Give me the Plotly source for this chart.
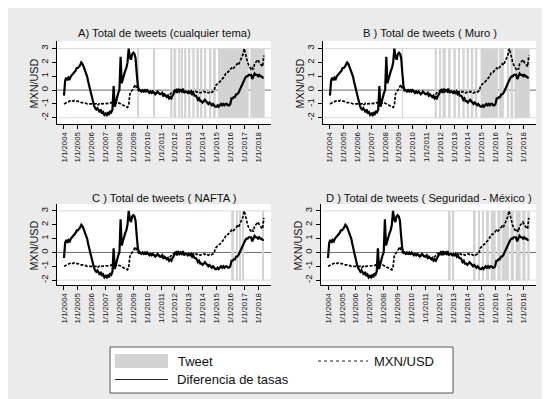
import plotly.graph_objects as go
import pandas as pd

# ---------------- data ----------------
month_start = "2004-01-01"
month_end = "2018-06-01"

diferencia_tasas = [
    # 2004
    -0.4, 0.7, 0.9, 0.7, 0.9, 0.8, 1.0, 1.1, 1.2, 1.3, 1.4, 1.6,
    # 2005
    1.6, 1.7, 1.8, 2.0, 1.9, 1.7, 1.5, 1.3, 1.0, 0.6, 0.2, -0.2,
    # 2006
    -0.6, -0.9, -1.1, -1.3, -1.4, -1.3, -1.5, -1.6, -1.4, -1.7, -1.6, -1.8,
    # 2007
    -1.7, -1.8, -1.6, -1.8, -1.5, -1.6, -1.4, 0.3, -1.2, -0.8, -0.5, -0.2,
    # 2008
    0.0, 2.4, 0.5, 0.9, 1.1, 1.4, 1.6, 2.0, 3.0, 2.4, 2.2, 2.6,
    # 2009
    2.7, 2.6, 2.3, 1.2, 0.3, 0.0, 0.0, -0.1, 0.0, -0.1, 0.0, -0.1,
    # 2010
    0.0, -0.1, -0.2, -0.1, -0.2, -0.1, -0.2, -0.3, -0.2, -0.1, -0.2, -0.3,
    # 2011
    -0.3, -0.2, -0.4, -0.3, -0.4, -0.5, -0.4, -0.6, -0.5, -0.6, -0.4, -0.2,
    # 2012
    -0.1, 0.0, -0.2, 0.1, -0.1, 0.0, -0.1, 0.1, -0.2, -0.1, -0.1, -0.2,
    # 2013
    -0.1, -0.2, -0.1, -0.3, -0.2, -0.4, -0.4, -0.5, -0.7, -0.6, -0.8, -0.8,
    # 2014
    -0.9, -0.8, -0.7, -0.8, -0.9, -1.0, -0.9, -1.0, -1.1, -1.0, -1.1, -1.2,
    # 2015
    -1.2, -1.1, -1.2, -1.1, -1.0, -1.1, -1.0, -1.1, -1.0, -1.0, -1.1, -1.1,
    # 2016
    -1.0, -0.6, -0.6, -0.5, -0.5, -0.3, -0.3, -0.2, 0.0, 0.1, 0.4, 0.6,
    # 2017
    0.7, 0.9, 1.0, 1.0, 1.1, 1.1, 1.1, 0.8, 1.1, 1.2, 1.1, 1.1,
    # 2018
    1.0, 1.1, 1.0, 1.0, 0.9, 0.9,
]

mxn_usd = [
    # 2004
    -1.0, -0.95, -0.9, -0.85, -0.8, -0.75, -0.75, -0.75, -0.8, -0.75, -0.8, -0.8,
    # 2005
    -0.8, -0.85, -0.85, -0.9, -0.9, -0.9, -0.95, -0.95, -1.0, -1.0, -1.0, -1.0,
    # 2006
    -1.0, -1.05, -1.0, -1.0, -1.0, -1.1, -1.0, -0.95, -1.0, -1.0, -1.0, -0.95,
    # 2007
    -0.95, -0.95, -1.0, -0.95, -0.95, -0.9, -0.95, -1.0, -1.0, -0.95, -0.9, -0.9,
    # 2008
    -0.95, -1.0, -1.05, -1.1, -1.15, -1.2, -1.2, -1.25, -1.1, -0.3, -0.1, 0.0,
    # 2009
    0.1, 0.3, 0.4, 0.1, 0.0, -0.05, 0.0, -0.1, 0.0, -0.05, -0.1, 0.0,
    # 2010
    -0.1, -0.1, -0.15, -0.2, -0.2, -0.1, -0.2, -0.2, -0.25, -0.2, -0.2, -0.25,
    # 2011
    -0.3, -0.25, -0.3, -0.4, -0.35, -0.4, -0.45, -0.4, -0.3, -0.2, -0.1, -0.1,
    # 2012
    0.0, -0.05, -0.1, 0.0, -0.1, -0.05, -0.1, -0.1, -0.15, -0.1, -0.1, -0.15,
    # 2013
    -0.2, -0.15, -0.2, -0.15, -0.1, -0.15, -0.1, -0.15, -0.1, -0.15, -0.2, -0.15,
    # 2014
    -0.1, -0.1, -0.15, -0.1, -0.15, -0.2, -0.15, -0.2, -0.15, -0.1, -0.05, 0.3,
    # 2015
    0.4, 0.5, 0.55, 0.6, 0.7, 0.8, 0.9, 1.0, 1.2, 1.3, 1.3, 1.4,
    # 2016
    1.5, 1.6, 1.5, 1.6, 1.7, 1.8, 1.9, 1.8, 2.1, 2.2, 2.4, 2.6,
    # 2017
    3.0, 2.6, 2.3, 2.0, 1.8, 1.6, 1.5, 1.6, 1.5, 1.9, 2.0, 2.1,
    # 2018
    2.2, 2.0, 1.9, 1.8, 1.7, 2.5,
]

# Tweet periods (start, end) for each panel
tweets_A_start = ["2009-04-10", "2010-06-20", "2011-09-01", "2011-11-27", "2012-03-27", "2012-06-20",
                  "2012-09-15", "2012-12-12", "2013-04-05", "2013-07-20", "2013-11-03", "2014-02-25",
                  "2014-06-15", "2014-10-01", "2015-02-10", "2017-06-10"]
tweets_A_end = ["2009-05-05", "2010-07-15", "2011-10-27", "2012-02-06", "2012-05-25", "2012-08-03",
                "2012-10-30", "2013-02-14", "2013-06-05", "2013-09-27", "2013-12-25", "2014-04-10",
                "2014-08-20", "2014-12-15", "2017-04-30", "2018-06-25"]

tweets_B_start = ["2009-03-25", "2011-08-05", "2011-11-28", "2012-02-25", "2012-07-25", "2012-12-12",
                  "2013-04-15", "2013-08-08", "2013-11-28", "2014-03-15", "2014-07-22", "2014-12-01",
                  "2016-04-05", "2016-11-05", "2017-01-30", "2017-05-15"]
tweets_B_end = ["2009-04-18", "2011-10-01", "2012-01-12", "2012-05-25", "2012-10-01", "2013-02-14",
                "2013-06-05", "2013-10-08", "2014-01-30", "2014-05-22", "2014-09-05", "2016-03-10",
                "2016-08-10", "2016-12-20", "2017-04-12", "2018-06-25"]

tweets_C_start = ["2016-01-25", "2016-06-05", "2016-09-01", "2016-11-12", "2018-04-22"]
tweets_C_end = ["2016-04-05", "2016-07-01", "2016-10-01", "2016-12-28", "2018-06-05"]

tweets_D_start = ["2012-09-08", "2012-12-20", "2014-06-25", "2014-10-15", "2015-01-30", "2015-05-10",
                  "2015-09-06", "2016-02-28", "2016-06-20", "2017-02-10", "2017-06-20", "2017-12-12",
                  "2018-04-22"]
tweets_D_end = ["2012-10-22", "2013-01-22", "2014-08-07", "2014-11-20", "2015-03-14", "2015-07-22",
                "2016-01-15", "2016-05-25", "2016-12-28", "2017-05-08", "2017-10-30", "2018-03-10",
                "2018-06-25"]

panel_titles = ["A) Total de tweets (cualquier tema)", "B ) Total de tweets ( Muro )",
                "C ) Total de tweets ( NAFTA )", "D ) Total de tweets ( Seguridad - México )"]
y_title = "MXN/USD"
year_ticks = list(range(2004, 2019))
tick_labels = [f"1/1/{y}" for y in year_ticks]
y_ticks = [-2, -1, 0, 1, 2, 3]

# ---------------- figure ----------------
W, H = 550, 399
months = pd.date_range(month_start, month_end, freq="MS")
tweets = [(tweets_A_start, tweets_A_end), (tweets_B_start, tweets_B_end),
          (tweets_C_start, tweets_C_end), (tweets_D_start, tweets_D_end)]

# pixel boxes (left, right, top, bottom) of each plot area
boxes = [(49, 263, 33, 116), (315, 528, 33, 116), (49, 263, 196, 277), (313, 528, 196, 277)]
yranges = [[-2.45, 3.55], [-2.45, 3.55], [-2.35, 3.5], [-2.35, 3.5]]
xrange_ = ["2003-07-01", "2018-12-08"]

FONT = "Liberation Sans, Arial, Helvetica, sans-serif"
BAR_GRAY = "#d3d3d3"

fig = go.Figure()
layout = dict(
    width=W, height=H,
    margin=dict(l=0, r=0, t=0, b=0),
    paper_bgcolor="#ebebeb", plot_bgcolor="white",
    showlegend=False, barmode="overlay",
    font=dict(family=FONT, color="#111"),
)
shapes, annotations = [], []

def px(x):
    return x / W

def py(y):
    return 1 - y / H

for i in range(4):
    k = "" if i == 0 else str(i + 1)
    xa, ya = "x" + k, "y" + k
    l, r, t, b = boxes[i]
    s = pd.to_datetime(pd.Series(tweets[i][0]))
    e = pd.to_datetime(pd.Series(tweets[i][1]))
    mids = s + (e - s) / 2
    widths = (e - s).dt.total_seconds() * 1000
    fig.add_trace(go.Bar(
        x=mids, y=[5] * len(s), base=-2, width=list(widths),
        marker=dict(color=BAR_GRAY, line=dict(width=0)),
        name="Tweet", xaxis=xa, yaxis=ya, hoverinfo="skip",
    ))
    fig.add_trace(go.Scatter(
        x=months, y=mxn_usd, mode="lines", name="MXN/USD",
        line=dict(color="black", width=1.7, dash="3px,1.5px"),
        xaxis=xa, yaxis=ya,
    ))
    fig.add_trace(go.Scatter(
        x=months, y=diferencia_tasas, mode="lines", name="Diferencia de tasas",
        line=dict(color="black", width=2.2),
        xaxis=xa, yaxis=ya,
    ))

    layout["xaxis" + k] = dict(
        domain=[l / W, r / W], anchor=ya, type="date", range=xrange_,
        tickmode="array", tickvals=[f"{y}-01-01" for y in year_ticks], ticktext=tick_labels,
        tickangle=-90, tickfont=dict(size=7.8, family=FONT, color="#111"),
        showline=True, linecolor="black", linewidth=1,
        ticks="outside", ticklen=4, tickcolor="black", showgrid=False, zeroline=False,
    )
    layout["yaxis" + k] = dict(
        domain=[1 - b / H, 1 - t / H], anchor=xa, range=yranges[i],
        tickmode="array", tickvals=y_ticks, ticktext=[str(v) for v in y_ticks],
        tickangle=-90, tickfont=dict(size=9.5, family=FONT, color="#111"),
        showline=True, linecolor="black", linewidth=1,
        ticks="outside", ticklen=4, tickcolor="black", showgrid=False, zeroline=False,
    )
    # reference lines
    for yv, col in [(3, "#d9d9d9"), (-2, "#d9d9d9"), (0, "#6e6e6e")]:
        shapes.append(dict(type="line", xref=xa + " domain", yref=ya, x0=0, x1=1, y0=yv, y1=yv,
                           line=dict(color=col, width=1), layer="below"))
    annotations.append(dict(text=panel_titles[i], xref="paper", yref="paper",
                            x=px((l + r) / 2), y=py(25 if i < 2 else 190),
                            xanchor="center", yanchor="middle", showarrow=False,
                            font=dict(size=11.2, family=FONT, color="#111")))
    annotations.append(dict(text=y_title, xref="paper", yref="paper",
                            x=px(l - 24), y=py((t + b) / 2 + 1), textangle=-90,
                            xanchor="center", yanchor="middle", showarrow=False,
                            font=dict(size=10.8, family=FONT, color="#111")))

# ---- legend box (drawn) ----
shapes.append(dict(type="rect", xref="paper", yref="paper", x0=px(102), x1=px(445), y0=py(385), y1=py(339),
                   line=dict(color="#555", width=1), fillcolor="white", layer="above"))
shapes.append(dict(type="rect", xref="paper", yref="paper", x0=px(107), x1=px(160), y0=py(360), y1=py(346),
                   line=dict(width=0), fillcolor=BAR_GRAY, layer="above"))
shapes.append(dict(type="line", xref="paper", yref="paper", x0=px(310), x1=px(360), y0=py(353), y1=py(353),
                   line=dict(color="#222", width=1, dash="dot"), layer="above"))
shapes.append(dict(type="line", xref="paper", yref="paper", x0=px(107), x1=px(160), y0=py(371.5), y1=py(371.5),
                   line=dict(color="#222", width=1.2), layer="above"))
for txt, x, y in [("Tweet", 168, 353), ("MXN/USD", 364, 353), ("Diferencia de tasas", 167, 371.5)]:
    annotations.append(dict(text=txt, xref="paper", yref="paper", x=px(x), y=py(y),
                            xanchor="left", yanchor="middle", showarrow=False,
                            font=dict(size=13, family=FONT, color="#111")))

layout["shapes"] = shapes
layout["annotations"] = annotations
fig.update_layout(**layout)
fig.write_html("out.html")
